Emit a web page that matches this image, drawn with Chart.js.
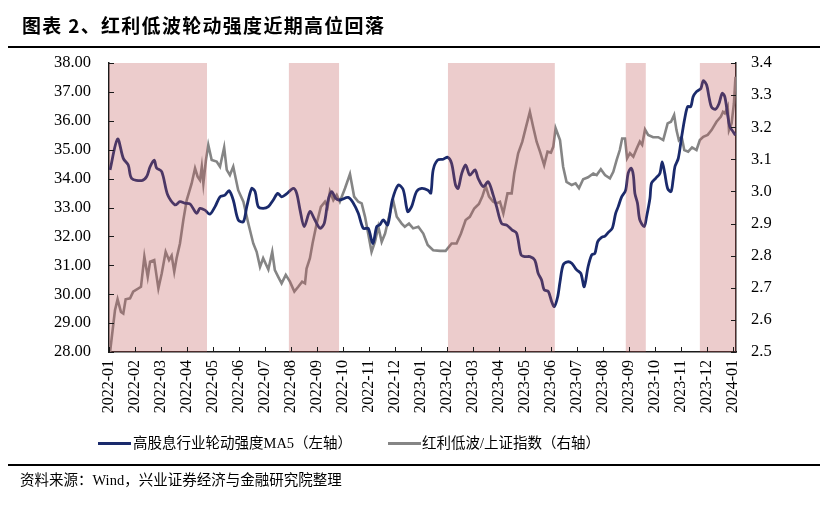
<!DOCTYPE html>
<html>
<head>
<meta charset="utf-8">
<script src="https://cdn.jsdelivr.net/npm/chart.js@4.4.1/dist/chart.umd.min.js"></script>
<style>
  html, body { margin: 0; padding: 0; background: #fff; }
  #wrap { position: relative; width: 828px; height: 507px; overflow: hidden; font-family: "Liberation Serif", "Noto Sans CJK SC", serif; color: #000; }
  #c { position: absolute; left: 0; top: 0; }
  .title { position: absolute; left: 22px; top: 12px; font-family: "Noto Sans CJK SC", sans-serif; font-weight: bold; font-size: 19px; line-height: 25px; letter-spacing: 1.3px; }
  .rule { position: absolute; left: 8px; width: 812px; height: 1.5px; background: #000; }
  .leg { position: absolute; top: 434px; font-size: 14.5px; line-height: 18px; white-space: nowrap; }
  .sw { position: absolute; height: 3px; top: 442px; }
  .src { position: absolute; left: 20px; top: 471px; font-size: 14.5px; line-height: 18px; white-space: nowrap; }
</style>
</head>
<body>
<div id="wrap">
  <canvas id="c" width="828" height="507"></canvas>
  <div class="title">图表 2、红利低波轮动强度近期高位回落</div>
  <div class="rule" style="top:46px"></div>
  <div class="sw" style="left:98px;width:33px;background:#1A2A6C"></div>
  <div class="leg" style="left:133px">高股息行业轮动强度MA5（左轴）</div>
  <div class="sw" style="left:388px;width:33px;background:#858585"></div>
  <div class="leg" style="left:422px">红利低波/上证指数（右轴）</div>
  <div class="rule" style="top:464px"></div>
  <div class="src">资料来源：Wind，兴业证券经济与金融研究院整理</div>
</div>
<script>
// ---- data (x = months since 2022-01) ----
const monthLabels = ["2022-01","2022-02","2022-03","2022-04","2022-05","2022-06","2022-07","2022-08","2022-09","2022-10","2022-11","2022-12",
  "2023-01","2023-02","2023-03","2023-04","2023-05","2023-06","2023-07","2023-08","2023-09","2023-10","2023-11","2023-12","2024-01"];

const navyMonths = [0.04,0.33,0.55,0.74,0.87,1.26,1.45,1.58,1.74,1.83,2.03,2.26,2.54,2.73,2.92,3.12,3.37,3.50,3.69,3.88,
  4.08,4.27,4.46,4.62,4.78,4.97,5.17,5.30,5.49,5.62,5.74,5.93,6.13,6.32,6.49,6.64,6.83,7.09,7.22,7.35,
  7.51,7.73,7.92,8.12,8.28,8.43,8.57,8.72,8.88,9.20,9.40,9.59,9.78,9.97,10.15,10.30,10.42,10.55,10.72,10.90,
  11.13,11.32,11.49,11.64,11.83,12.03,12.27,12.38,12.47,12.64,12.86,13.03,13.18,13.33,13.43,13.57,13.72,13.88,14.08,14.20,
  14.40,14.59,14.78,14.91,15.10,15.30,15.51,15.68,15.85,16.00,16.19,16.38,16.51,16.64,16.74,16.90,17.03,17.13,17.26,17.35,
  17.47,17.64,17.80,17.99,18.15,18.28,18.43,18.57,18.69,18.80,18.95,19.08,19.20,19.36,19.49,19.59,19.72,19.87,19.97,20.08,
  20.17,20.23,20.33,20.42,20.59,20.68,20.81,20.87,21.03,21.19,21.28,21.38,21.49,21.62,21.70,21.77,21.90,22.03,22.15,22.26,
  22.38,22.47,22.60,22.77,22.86,22.99,23.08,23.18,23.33,23.46,23.59,23.69,23.80,23.88,24.01,24.10];
const navyValues = [34.30,35.37,34.70,34.47,34.01,33.93,34.07,34.41,34.64,34.37,34.24,33.43,33.09,33.20,33.15,33.12,32.80,32.97,32.91,32.77,
  33.03,33.37,33.43,33.58,33.26,32.57,32.51,33.03,33.66,33.55,33.03,32.97,33.03,33.26,33.49,33.37,33.47,33.66,33.49,32.91,
  32.34,32.86,32.57,32.28,32.45,33.26,33.55,33.32,33.26,33.35,33.15,32.80,32.28,32.28,31.75,32.34,32.40,32.57,32.40,33.26,
  33.78,33.61,32.86,33.03,33.55,33.66,33.60,33.50,34.30,34.64,34.67,34.74,34.53,33.78,33.66,34.18,34.47,34.12,34.30,34.01,
  33.72,33.89,33.43,33.03,32.45,32.39,32.22,32.11,31.36,31.30,31.30,31.18,30.72,30.49,30.15,30.09,29.74,29.57,29.91,30.43,
  31.01,31.12,31.07,30.84,30.72,30.26,30.95,31.36,31.41,31.82,31.97,32.01,32.13,32.28,32.80,33.03,33.37,33.58,34.18,34.36,
  34.12,33.49,33.15,32.57,32.34,32.68,33.32,33.84,34.01,34.18,34.58,34.18,33.66,33.55,33.95,34.41,34.70,35.45,36.09,36.49,
  36.49,36.83,37.01,37.12,37.39,37.24,36.83,36.47,36.40,36.58,36.95,36.83,36.20,35.80,35.62,35.50];

const greyMonths = [0.04,0.23,0.33,0.46,0.55,0.64,0.81,0.93,1.23,1.36,1.49,1.58,1.74,1.90,2.03,2.18,2.31,2.41,2.51,2.60,
  2.73,2.86,2.99,3.18,3.31,3.41,3.50,3.57,3.63,3.73,3.82,3.95,4.14,4.27,4.43,4.53,4.65,4.78,4.97,5.17,
  5.36,5.55,5.68,5.81,5.93,6.13,6.28,6.38,6.51,6.64,6.80,6.96,7.13,7.28,7.43,7.54,7.60,7.73,7.83,7.99,
  8.15,8.31,8.41,8.50,8.63,8.76,8.88,9.08,9.27,9.43,9.59,9.72,9.85,9.97,10.10,10.23,10.36,10.49,10.62,10.77,
  10.93,11.07,11.26,11.38,11.54,11.70,11.90,12.09,12.26,12.47,12.73,12.95,13.18,13.37,13.54,13.72,13.88,14.05,14.23,14.36,
  14.49,14.62,14.78,14.91,15.04,15.17,15.33,15.49,15.59,15.74,15.90,16.03,16.19,16.32,16.45,16.58,16.74,16.87,17.00,17.09,
  17.18,17.35,17.47,17.60,17.80,17.95,18.08,18.24,18.43,18.63,18.76,18.92,19.08,19.27,19.40,19.53,19.65,19.74,19.85,19.93,
  20.04,20.17,20.30,20.42,20.51,20.62,20.74,20.93,21.13,21.32,21.49,21.62,21.74,21.83,21.92,22.03,22.13,22.28,22.43,22.60,
  22.73,22.86,23.03,23.18,23.37,23.54,23.62,23.69,23.80,23.85,23.95,24.04,24.10];
const greyValues = [2.500,2.630,2.664,2.625,2.620,2.664,2.667,2.688,2.703,2.797,2.734,2.781,2.786,2.698,2.745,2.812,2.786,2.800,2.750,2.792,
  2.838,2.911,2.973,3.025,3.072,3.046,3.035,3.077,3.025,3.098,3.145,3.098,3.093,3.077,3.137,3.067,3.051,3.077,3.004,2.968,
  2.900,2.838,2.812,2.765,2.792,2.757,2.812,2.755,2.734,2.714,2.740,2.719,2.688,2.703,2.719,2.714,2.760,2.792,2.838,2.900,
  2.952,2.968,2.952,3.000,2.973,2.989,2.968,3.010,3.054,2.984,2.968,2.963,2.921,2.869,2.812,2.843,2.890,2.843,2.869,2.921,
  2.973,2.921,2.900,2.890,2.900,2.885,2.890,2.869,2.833,2.817,2.815,2.815,2.838,2.838,2.869,2.911,2.921,2.947,2.961,2.984,
  3.017,2.984,2.968,2.963,2.968,2.932,2.994,2.994,3.056,3.119,3.155,3.197,3.248,3.200,3.155,3.124,3.082,3.124,3.121,3.139,
  3.197,3.160,3.077,3.030,3.020,3.025,3.010,3.038,3.044,3.056,3.051,3.069,3.051,3.041,3.061,3.098,3.129,3.165,3.165,3.103,
  3.119,3.108,3.134,3.155,3.145,3.193,3.176,3.169,3.169,3.160,3.212,3.217,3.238,3.191,3.160,3.170,3.129,3.124,3.137,3.129,
  3.160,3.170,3.176,3.191,3.217,3.233,3.248,3.243,3.264,3.191,3.212,3.274,3.357];

const shadeStarts = [0, 6.92, 13.04, 19.88, 22.73];
const shadeEnds   = [3.77, 8.85, 17.15, 20.65, 24.12];

// ---- plugins ----
const shadePlugin = {
  id: 'shade',
  afterDatasetsDraw(chart) {
    const {ctx, chartArea, scales} = chart;
    const xs = scales.x;
    ctx.save();
    ctx.fillStyle = 'rgba(192,85,85,0.3)';
    shadeStarts.forEach((s, i) => {
      const x0 = xs.getPixelForValue(s), x1 = xs.getPixelForValue(shadeEnds[i]);
      ctx.fillRect(x0, chartArea.top, x1 - x0, chartArea.bottom - chartArea.top);
    });
    ctx.restore();
  }
};
const innerTicks = {
  id: 'innerTicks',
  afterDraw(chart) {
    const {ctx, chartArea, scales} = chart;
    ctx.save();
    ctx.strokeStyle = '#1a1a1a';
    ctx.lineWidth = 1;
    const L = 5;
    scales.x.ticks.forEach(t => {
      const x = Math.round(scales.x.getPixelForValue(t.value)) + 0.5;
      ctx.beginPath(); ctx.moveTo(x, chartArea.bottom); ctx.lineTo(x, chartArea.bottom - L); ctx.stroke();
    });
    scales.y.ticks.forEach(t => {
      const y = Math.round(scales.y.getPixelForValue(t.value)) + 0.5;
      ctx.beginPath(); ctx.moveTo(chartArea.left, y); ctx.lineTo(chartArea.left + L, y); ctx.stroke();
    });
    scales.y2.ticks.forEach(t => {
      const y = Math.round(scales.y2.getPixelForValue(t.value)) + 0.5;
      ctx.beginPath(); ctx.moveTo(chartArea.right, y); ctx.lineTo(chartArea.right - L, y); ctx.stroke();
    });
    ctx.restore();
  }
};

const yFont = { family: '"Liberation Serif", "Times New Roman", serif', size: 16.5 };
const xFont = { family: '"Liberation Serif", "Times New Roman", serif', size: 16 };

new Chart(document.getElementById('c'), {
  type: 'line',
  data: {
    datasets: [
      {
        label: '红利低波/上证指数（右轴）',
        data: greyMonths.map((m, i) => ({x: m, y: greyValues[i]})),
        yAxisID: 'y2',
        borderColor: '#858585',
        borderWidth: 2.6,
        pointRadius: 0,
        tension: 0,
        order: 2
      },
      {
        label: '高股息行业轮动强度MA5（左轴）',
        data: navyMonths.map((m, i) => ({x: m, y: navyValues[i]})),
        yAxisID: 'y',
        borderColor: '#1A2A6C',
        borderWidth: 2.8,
        pointRadius: 0,
        tension: 0.3,
        order: 1
      }
    ]
  },
  options: {
    responsive: false,
    animation: false,
    layout: { padding: { top: 63, left: 0, right: 0, bottom: 0 } },
    plugins: { legend: { display: false }, tooltip: { enabled: false } },
    scales: {
      x: {
        type: 'linear',
        min: 0,
        max: 24.12,
        afterBuildTicks(scale) { scale.ticks = monthLabels.map((_, i) => ({ value: i })); },
        afterFit(scale) { scale.height = 507 - 352; },
        grid: { display: false, drawTicks: false },
        border: { display: true, color: '#1a1a1a', width: 1.5 },
        ticks: {
          autoSkip: false, minRotation: 90, maxRotation: 90, padding: 8,
          color: '#000', font: xFont,
          callback: (v) => monthLabels[Math.round(v)]
        }
      },
      y: {
        position: 'left',
        min: 28, max: 38,
        afterFit(scale) { scale.width = 109; },
        grid: { display: false, drawTicks: false },
        border: { display: true, color: '#1a1a1a', width: 1.5 },
        ticks: { stepSize: 1, padding: 18, color: '#000', font: yFont, callback: (v) => Number(v).toFixed(2) }
      },
      y2: {
        position: 'right',
        min: 2.5, max: 3.4,
        afterFit(scale) { scale.width = 828 - 736; },
        grid: { display: false, drawTicks: false },
        border: { display: true, color: '#1a1a1a', width: 1.5 },
        ticks: { stepSize: 0.1, padding: 15, color: '#000', font: yFont, callback: (v) => Number(v).toFixed(1) }
      }
    }
  },
  plugins: [shadePlugin, innerTicks]
});
</script>
</body>
</html>
